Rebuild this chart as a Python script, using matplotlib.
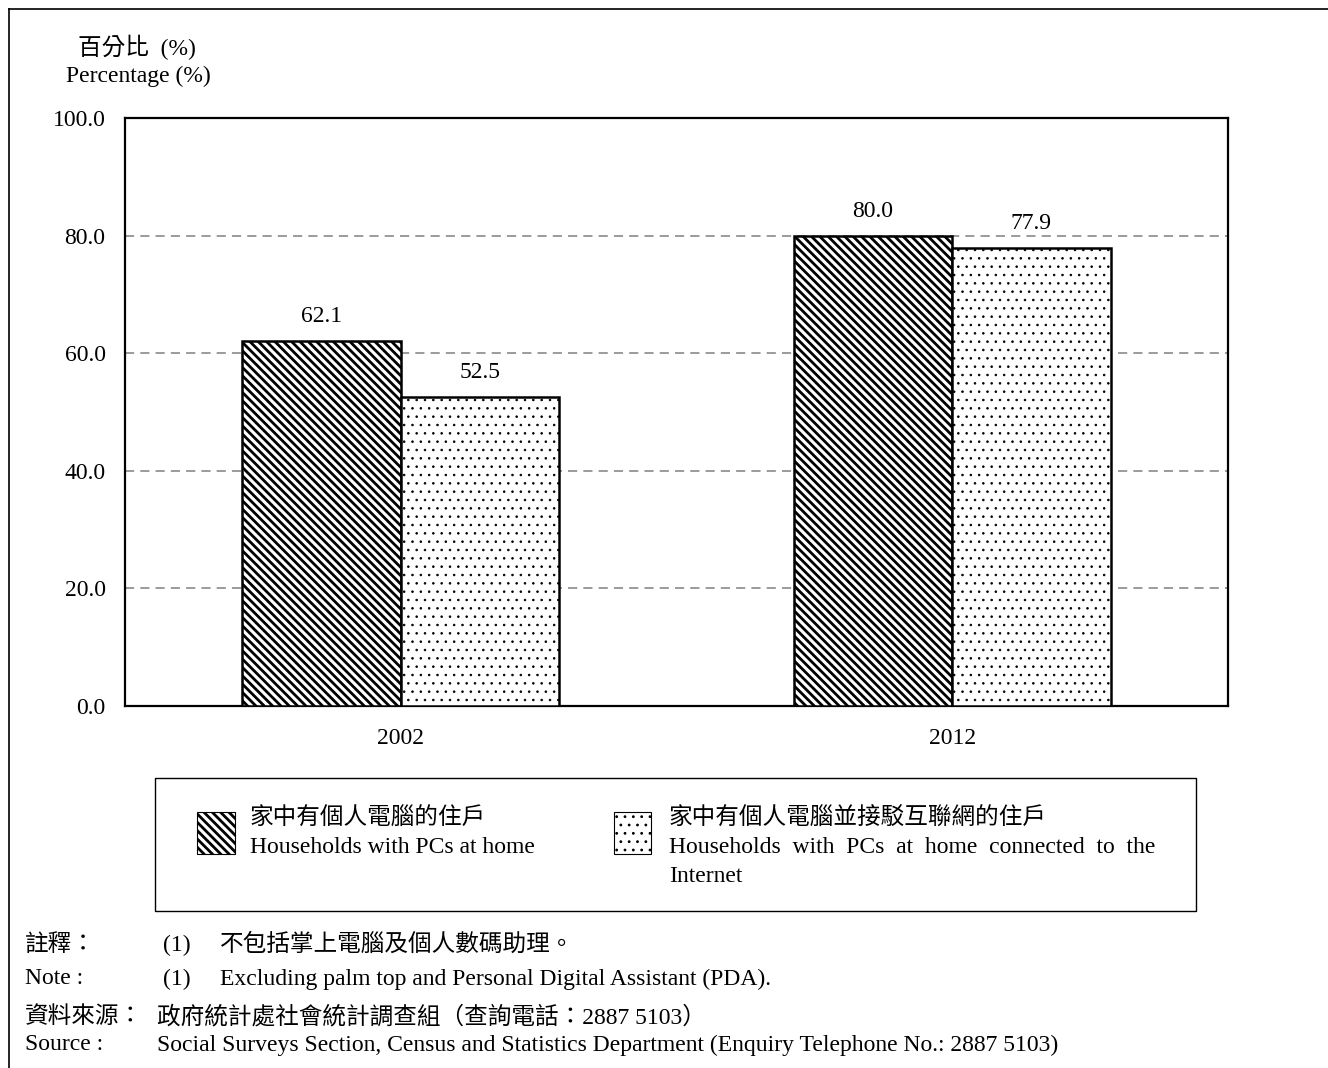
import matplotlib
matplotlib.use("Agg")
import matplotlib.pyplot as plt
from matplotlib.patches import Rectangle
from matplotlib.lines import Line2D
import numpy as np

# --- DATA ---
years = ["2002", "2012"]
pcs_at_home = [62.1, 80.0]
pcs_internet = [52.5, 77.9]
y_ticks = [0, 20, 40, 60, 80, 100]
legend_labels = [
    "家中有個人電腦的住戶\nHouseholds with PCs at home",
    "家中有個人電腦並接駁互聯網的住戶\nHouseholds  with  PCs  at  home  connected  to  the\nInternet",
]

FONT = ["Liberation Serif", "Noto Sans CJK TC", "DejaVu Sans"]
plt.rcParams["font.family"] = FONT
FS = 17
HATCH_STRIPE = "\\\\\\\\"
HATCH_DOT = ".."

W, H = 1328, 1068
fig = plt.figure(figsize=(W / 100, H / 100), dpi=100)


def fx(px):
    return px / W


def fy(py):
    return 1 - py / H


# --- MAIN AXES ---
ax = fig.add_axes([fx(125), fy(706), fx(1228) - fx(125), fy(118) - fy(706)])
x = np.arange(len(years))
bw = 0.287
with plt.rc_context({"hatch.linewidth": 2.0}):
    b1 = ax.bar(x - bw / 2, pcs_at_home, bw, facecolor="white", edgecolor="black",
                hatch=HATCH_STRIPE, linewidth=1.8, zorder=3)
with plt.rc_context({"hatch.linewidth": 0.6}):
    b2 = ax.bar(x + bw / 2, pcs_internet, bw, facecolor="white", edgecolor="black",
                hatch=HATCH_DOT, linewidth=1.8, zorder=3)

for bars, vals in ((b1, pcs_at_home), (b2, pcs_internet)):
    for rect, v in zip(bars, vals):
        ax.annotate(f"{v:.1f}", (rect.get_x() + rect.get_width() / 2, v),
                    xytext=(0, 10), textcoords="offset points",
                    ha="center", va="bottom", fontsize=FS)

ax.set_xlim(-0.5, 1.5)
ax.set_ylim(0, 100)
ax.set_xticks(x)
ax.set_xticklabels(years, fontsize=FS)
ax.set_yticks(y_ticks)
ax.set_yticklabels([f"{t:.1f}" for t in y_ticks], fontsize=FS)
ax.tick_params(axis="both", length=0)
ax.tick_params(axis="x", pad=16)
ax.tick_params(axis="y", pad=14)
for s in ax.spines.values():
    s.set_linewidth(1.6)
for t in y_ticks[1:-1]:
    ax.axhline(t, color="#808080", linestyle=(0, (6, 4)), linewidth=1.1, zorder=1)

# --- Y AXIS TITLE ---
fig.text(fx(78), fy(47), "百分比  (%)", ha="left", va="center", fontsize=FS)
fig.text(fx(138), fy(76), "Percentage (%)", ha="center", va="center", fontsize=FS)

# --- LEGEND (drawn by hand) ---
fig.add_artist(Rectangle((fx(155), fy(911)), fx(1196) - fx(155), fy(778) - fy(911),
                         transform=fig.transFigure, facecolor="none",
                         edgecolor="black", linewidth=1.0))
with plt.rc_context({"hatch.linewidth": 2.0}):
    fig.add_artist(Rectangle((fx(197), fy(854)), fx(38), fy(812) - fy(854),
                             transform=fig.transFigure, facecolor="white",
                             edgecolor="black", hatch=HATCH_STRIPE, linewidth=0.8))
with plt.rc_context({"hatch.linewidth": 0.8}):
    fig.add_artist(Rectangle((fx(614), fy(854)), fx(37), fy(812) - fy(854),
                             transform=fig.transFigure, facecolor="white",
                             edgecolor="black", hatch=HATCH_DOT, linewidth=0.8))
fig.text(fx(250), fy(808), legend_labels[0], ha="left", va="top", fontsize=FS,
         linespacing=1.45)
fig.text(fx(669), fy(808), legend_labels[1], ha="left", va="top", fontsize=FS,
         linespacing=1.45)

# --- NOTES ---
fig.text(fx(25), fy(945), "註釋：", ha="left", va="center", fontsize=FS)
fig.text(fx(163), fy(945), "(1)", ha="left", va="center", fontsize=FS)
fig.text(fx(220), fy(945), "不包括掌上電腦及個人數碼助理。", ha="left", va="center", fontsize=FS)
fig.text(fx(25), fy(979), "Note :", ha="left", va="center", fontsize=FS)
fig.text(fx(163), fy(979), "(1)", ha="left", va="center", fontsize=FS)
fig.text(fx(220), fy(979), "Excluding palm top and Personal Digital Assistant (PDA).",
         ha="left", va="center", fontsize=FS)
fig.text(fx(25), fy(1017), "資料來源：", ha="left", va="center", fontsize=FS)
fig.text(fx(157), fy(1017), "政府統計處社會統計調查組（查詢電話：2887 5103）",
         ha="left", va="center", fontsize=FS)
fig.text(fx(25), fy(1045), "Source :", ha="left", va="center", fontsize=FS)
fig.text(fx(157), fy(1045),
         "Social Surveys Section, Census and Statistics Department (Enquiry Telephone No.: 2887 5103)",
         ha="left", va="center", fontsize=FS)

# --- OUTER FRAME (top and left edges) ---
fig.add_artist(Line2D([fx(9), 1], [fy(9), fy(9)], transform=fig.transFigure,
                      color="black", linewidth=1.2))
fig.add_artist(Line2D([fx(9), fx(9)], [fy(9), 0], transform=fig.transFigure,
                      color="black", linewidth=1.2))

fig.savefig("out.png", dpi=100)
